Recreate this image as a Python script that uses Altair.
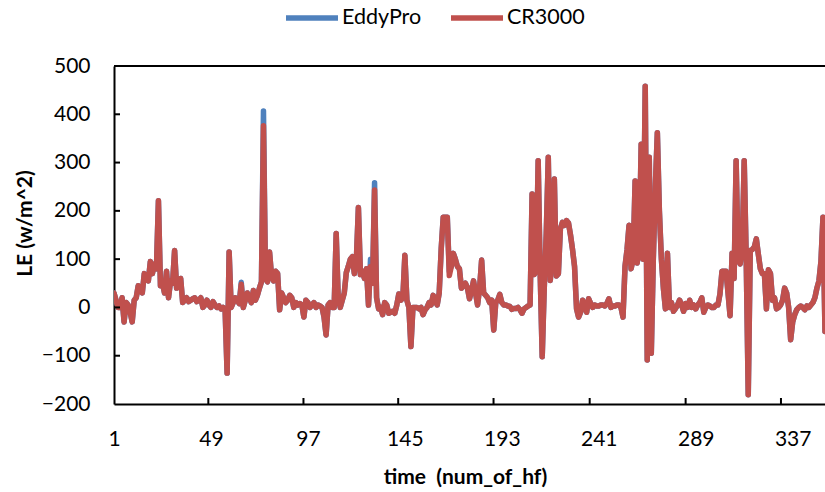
import altair as alt
import pandas as pd

# ---- data ----
cr3000 = [
    30, 15, 0, 0, 20, -30, 10, 5, -10, -30,            # 1-10
    15, 20, 45, 35, 30, 70, 60, 55, 95, 70,            # 11-20
    90, 80, 221, 45, 50, 30, 75, 20, 55, 50,           # 21-30
    118, 40, 45, 60, 10, 15, 20, 12, 15, 18,           # 31-40
    20, 12, 15, 20, 0, 5, 15, 5, 0, 12,                # 41-50
    5, 0, 3, -3, 0, -3, -136, 115, 0, 10,              # 51-60
    20, 15, 8, 48, 0, 15, 30, 20, 10, 35,              # 61-70
    15, 25, 40, 53, 376, 60, 53, 115, 65, 55,          # 71-80
    75, 70, -5, 30, 20, 10, 15, 25, 20, 0,             # 81-90
    10, 5, 8, 5, -20, 15, 10, 0, 5, 10,                # 91-100
    0, 5, 3, 0, -20, -57, 5, 10, 0, 0,                 # 101-110
    153, 20, 0, 15, 30, 72, 85, 100, 105, 70,          # 111-120
    100, 207, 68, 75, 60, 80, 5, 85, 50, 243,          # 121-130
    20, -3, 0, -15, 10, 5, -12, -10, -8, -12,          # 131-140
    5, 28, 15, 20, 108, 15, 0, -81, 0, 0,              # 141-150
    0, -3, 0, -15, -5, 0, 10, 5, 25, 15,               # 151-160
    5, 30, 122, 187, 187, 187, 66, 85, 112, 100,       # 161-170
    85, 80, 40, 45, 50, 40, 18, 35, 55, 30,            # 171-180
    5, 40, 98, 30, 25, 20, 10, 15, -47, 10,            # 181-190
    15, 27, 10, 5, 5, 3, 2, -4, -2, -2,                # 191-200
    0, -5, -12, -3, 0, 3, 5, 235, 68, 75,              # 201-210
    304, 70, -102, 40, 153, 311, 56, 120, 266, 65,     # 211-220
    70, 163, 176, 170, 180, 175, 150, 120, 85, -3,     # 221-230
    -20, -10, 15, 5, -10, 18, 8, 0, 5, 3,              # 231-240
    3, 5, 5, 3, 8, 18, 0, 3, 3, 5,                     # 241-250
    5, 0, -20, 85, 120, 170, 80, 100, 262, 92,         # 251-260
    120, 338, 100, 458, -109, 311, -95, 100, 250, 362, # 261-270
    200, 100, 40, -3, 112, 0, 10, -8, -2, 5,           # 271-280
    15, 5, -8, 8, 0, 15, 0, 5, -3, 5,                  # 281-290
    10, 20, -10, 0, 5, 3, 0, 0, 5, 5,                  # 291-300
    28, 75, 75, 75, 30, -17, 112, 60, 304, 100,        # 301-310
    90, 122, 304, 100, -181, 118, 120, 125, 142, 110,  # 311-320
    80, 70, 70, -3, 78, 70, 15, 20, -3, 0,             # 321-330
    5, 15, 40, 30, 0, -67, -30, -15, -5, 0,            # 331-340
    3, 0, -5, 3, 0, 5, 10, 20, 40, 55,                 # 341-350
    95, 187, -50,                                      # 351-353
]

# EddyPro follows CR3000 except at these peaks, where its blue line shows above
eddypro_peaks = {64: 52, 75: 407, 128: 100, 130: 258, 167: 75}
eddypro = list(cr3000)
for k, v in eddypro_peaks.items():
    eddypro[k - 1] = v

x_labels = [1, 49, 97, 145, 193, 241, 289, 337]
x_ticks = [47.7, 94.8, 141.7, 188.9, 236.5, 284, 331.2]
y_ticks = [-100, 0, 100, 200, 300, 400]
series_names = ["EddyPro", "CR3000"]
series_colors = ["#4F81BD", "#C0504D"]

idx = list(range(1, len(cr3000) + 1))
df_e = pd.DataFrame({"t": idx, "LE": eddypro, "series": "EddyPro"})
df_c = pd.DataFrame({"t": idx, "LE": cr3000, "series": "CR3000"})
df_xt = pd.DataFrame({"t": x_ticks})
df_yt = pd.DataFrame({"v": y_ticks})

FONT = "Lato"
W, H = 711, 338
LW = 5.5

xscale = alt.Scale(domain=[1, 353], nice=False, zero=False)
yscale = alt.Scale(domain=[-200, 500], nice=False)

x_axis = alt.Axis(
    values=x_labels, ticks=False, grid=False, domainColor="black", domainWidth=2,
    labelFontSize=21, labelFont=FONT, labelColor="#000000", labelFlush=False,
    labelOverlap=False, labelBaseline="alphabetic", labelPadding=41,
    title="time\u00a0 (num_of_hf)", titleFont=FONT, titleFontSize=21,
    titleFontWeight="bold", titleColor="#000000", titleX=351, titleY=79,
    titleAlign="center", titleBaseline="alphabetic",
)
y_axis = alt.Axis(
    values=[-200, -100, 0, 100, 200, 300, 400, 500], ticks=False, grid=False,
    domainColor="black", domainWidth=2, labelFontSize=21, labelFont=FONT,
    labelColor="#000000", labelFlush=False, labelOverlap=False,
    labelPadding=24, labelAlign="right", labelBaseline="middle",
    title="LE (w/m^2)", titleFont=FONT, titleFontSize=21, titleFontWeight="bold",
    titleColor="#000000", titleX=-89, titleY=157, titleAngle=270,
    titleAlign="center", titleBaseline="middle",
)

color = alt.Color(
    "series:N",
    scale=alt.Scale(domain=series_names, range=series_colors),
    legend=alt.Legend(
        title=None, orient="none", legendX=169, legendY=-77, direction="horizontal",
        symbolType="stroke", symbolSize=2704, symbolStrokeWidth=5.5,
        labelFontSize=21.5, labelFont=FONT, labelColor="#000000", labelOffset=1,
        columnPadding=18, padding=0,
    ),
)

line_e = alt.Chart(df_e).mark_line(strokeWidth=LW, strokeJoin="round", strokeCap="round", clip=True).encode(
    x=alt.X("t:Q", scale=xscale, axis=x_axis),
    y=alt.Y("LE:Q", scale=yscale, axis=y_axis),
    color=color,
)
line_c = alt.Chart(df_c).mark_line(strokeWidth=LW, strokeJoin="round", strokeCap="round", clip=True).encode(
    x=alt.X("t:Q", scale=xscale),
    y=alt.Y("LE:Q", scale=yscale),
    color=color,
)

top_border = alt.Chart(df_xt).mark_rule(color="black", strokeWidth=2).encode(
    x=alt.value(0), x2=alt.value(W), y=alt.value(0)
)
xt = alt.Chart(df_xt).mark_rule(color="black", strokeWidth=2).encode(
    x=alt.X("t:Q", scale=xscale), y=alt.value(H), y2=alt.value(H - 6)
)
yt = alt.Chart(df_yt).mark_rule(color="black", strokeWidth=2).encode(
    y=alt.Y("v:Q", scale=yscale), x=alt.value(0), x2=alt.value(6)
)

chart = alt.layer(line_e, line_c, xt, yt, top_border).properties(
    width=W, height=H,
    autosize=alt.AutoSizeParams(type="none"),
    padding={"left": 114, "top": 66, "right": 0, "bottom": 88},
).configure_view(stroke=None).configure(background="white")

chart.save("out.html", embed_options={"renderer": "svg", "actions": False})
